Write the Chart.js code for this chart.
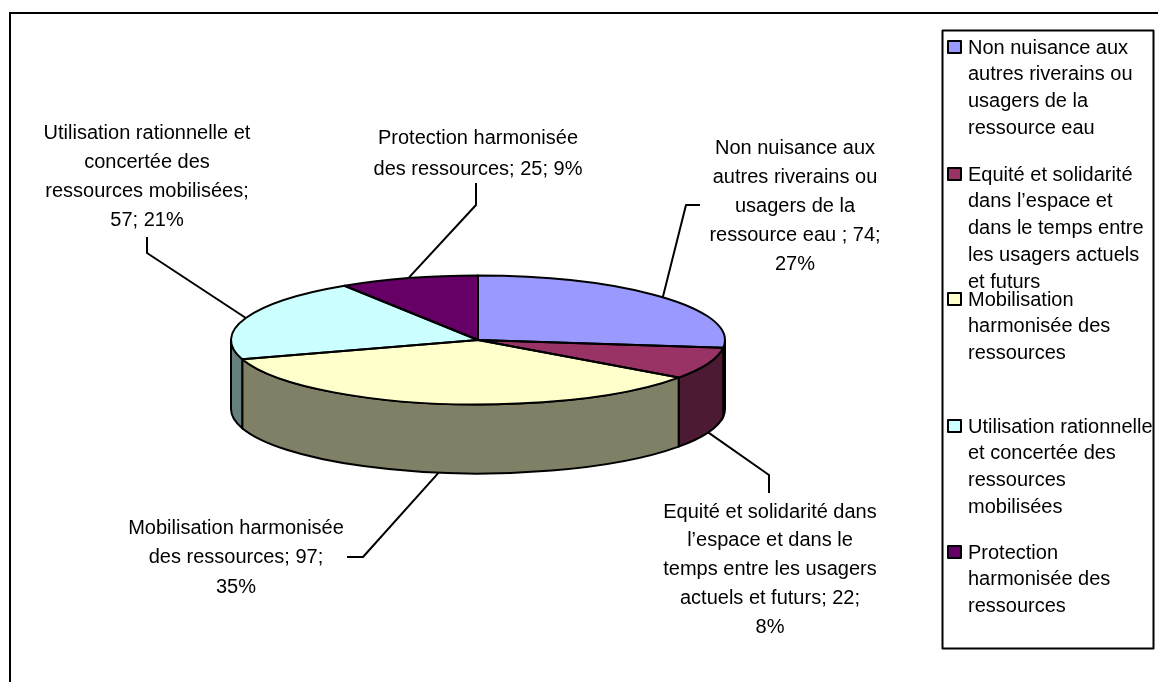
<!DOCTYPE html>
<html lang="fr">
<head>
  <meta charset="UTF-8">
  <title>Répartition des réponses</title>
  <script src="https://cdn.jsdelivr.net/npm/chart.js"></script>
  <style>
    body { margin: 0; background: #fff; }
    canvas { display: block; }
  </style>
</head>
<body>
<canvas id="chart" width="1158" height="682"></canvas>
<script>
const categories = [
  "Non nuisance aux autres riverains ou usagers de la ressource eau ",
  "Equité et solidarité dans l’espace et dans le temps entre les usagers actuels et futurs",
  "Mobilisation harmonisée des ressources",
  "Utilisation rationnelle et concertée des ressources mobilisées",
  "Protection harmonisée des ressources"
];
const values = [74, 22, 97, 57, 25];
const topColors = ["#9999FF", "#993366", "#FFFFCC", "#CCFFFF", "#660066"];
const sideColors = ["#4D4D80", "#4D1A33", "#808066", "#668080", "#330033"];

// wrapped text, same line breaks as the original
const labelLines = [
  ["Non nuisance aux", "autres riverains ou", "usagers de la", "ressource eau ; 74;", "27%"],
  ["Equité et solidarité dans", "l’espace et dans le", "temps entre les usagers", "actuels et futurs; 22;", "8%"],
  ["Mobilisation harmonisée", "des ressources; 97;", "35%"],
  ["Utilisation rationnelle et", "concertée des", "ressources mobilisées;", "57; 21%"],
  ["Protection harmonisée", "des ressources; 25; 9%"]
];
const legendLines = [
  ["Non nuisance aux", "autres riverains ou", "usagers de la", "ressource eau"],
  ["Equité et solidarité", "dans l’espace et", "dans le temps entre", "les usagers actuels", "et futurs"],
  ["Mobilisation", "harmonisée des", "ressources"],
  ["Utilisation rationnelle", "et concertée des", "ressources", "mobilisées"],
  ["Protection", "harmonisée des", "ressources"]
];

// layout of the callouts and legend
const labelCenters = [[795, 148, 29], [770, 512, 28.8], [236, 528, 29.5], [147, 133, 29], [478, 138, 31]];
const leaderPaths = [
  [[700, 205], [686, 205]],
  [[769, 493], [769, 475]],
  [[347, 557], [363, 557]],
  [[147, 237], [147, 253]],
  [[476, 183], [476, 205]]
];
const legendTops = [47, 174, 299, 426, 552];
const squash = 0.261;
const depth = 69;
const font = "20px 'Liberation Sans', Arial, sans-serif";

const pie3d = {
  id: "pie3d",
  beforeDatasetsDraw(chart) {
    const ctx = chart.ctx;
    const arcs = chart.getDatasetMeta(0).data;
    ctx.save();
    ctx.fillStyle = "#fff";
    ctx.fillRect(0, 0, chart.width, chart.height);
    ctx.strokeStyle = "#000";
    ctx.lineWidth = 2;
    ctx.beginPath();
    ctx.moveTo(10, 682);
    ctx.lineTo(10, 13);
    ctx.lineTo(1158, 13);
    ctx.stroke();
    // side wall, only the part facing the viewer
    arcs.forEach((arc, i) => {
      const { x, y, outerRadius: r, startAngle, endAngle } = arc.getProps(["x", "y", "outerRadius", "startAngle", "endAngle"], true);
      const a = Math.max(startAngle, 0);
      const b = Math.min(endAngle, Math.PI);
      if (b <= a) return;
      ctx.beginPath();
      ctx.ellipse(x, y, r, r * squash, 0, a, b);
      ctx.ellipse(x, y + depth, r, r * squash, 0, b, a, true);
      ctx.closePath();
      ctx.fillStyle = sideColors[i];
      ctx.fill();
      ctx.lineWidth = 2;
      ctx.stroke();
    });
    ctx.restore();
    // flatten the pie itself
    const first = arcs[0];
    ctx.save();
    ctx.translate(first.x, first.y);
    ctx.scale(1, squash);
    ctx.translate(-first.x, -first.y);
  },
  afterDatasetsDraw(chart) {
    const ctx = chart.ctx;
    ctx.restore();
    ctx.save();
    ctx.strokeStyle = "#000";
    ctx.lineWidth = 2;
    ctx.lineJoin = "round";
    chart.getDatasetMeta(0).data.forEach((arc, i) => {
      const { x, y, outerRadius: r, startAngle, endAngle } = arc.getProps(["x", "y", "outerRadius", "startAngle", "endAngle"], true);
      ctx.beginPath();
      ctx.moveTo(x, y);
      ctx.ellipse(x, y, r, r * squash, 0, startAngle, endAngle);
      ctx.closePath();
      ctx.stroke();

      // leader from the label to the middle of the slice
      const mid = (startAngle + endAngle) / 2;
      const sin = Math.sin(mid);
      const tipX = x + r * Math.cos(mid);
      const tipY = y + r * squash * sin + (sin > 0 ? depth : 0);
      ctx.beginPath();
      leaderPaths[i].forEach((p, k) => k ? ctx.lineTo(p[0], p[1]) : ctx.moveTo(p[0], p[1]));
      ctx.lineTo(tipX, tipY);
      ctx.stroke();
    });

    // data labels
    ctx.fillStyle = "#000";
    ctx.font = font;
    ctx.textAlign = "center";
    ctx.textBaseline = "middle";
    labelLines.forEach((lines, i) => {
      const [cx, top, step] = labelCenters[i];
      lines.forEach((line, k) => ctx.fillText(line, cx, top + k * step));
    });

    // legend box
    ctx.lineWidth = 2;
    ctx.strokeRect(942.5, 30.5, 211, 618);
    ctx.textAlign = "left";
    legendLines.forEach((lines, i) => {
      ctx.fillStyle = topColors[i];
      ctx.lineWidth = 2;
      ctx.fillRect(948, legendTops[i] - 6, 13, 12);
      ctx.strokeRect(948, legendTops[i] - 6, 13, 12);
      ctx.fillStyle = "#000";
      lines.forEach((line, k) => ctx.fillText(line, 968, legendTops[i] + 1 + k * 26.8));
    });
    ctx.restore();
  }
};

new Chart(document.getElementById("chart"), {
  type: "pie",
  data: {
    labels: categories,
    datasets: [{
      data: values,
      backgroundColor: topColors,
      borderWidth: 0
    }]
  },
  options: {
    responsive: false,
    animation: false,
    layout: { padding: { left: 231, right: 433, top: 93, bottom: 95 } },
    plugins: {
      legend: { display: false },
      tooltip: { enabled: false }
    }
  },
  plugins: [pie3d]
});
</script>
</body>
</html>
